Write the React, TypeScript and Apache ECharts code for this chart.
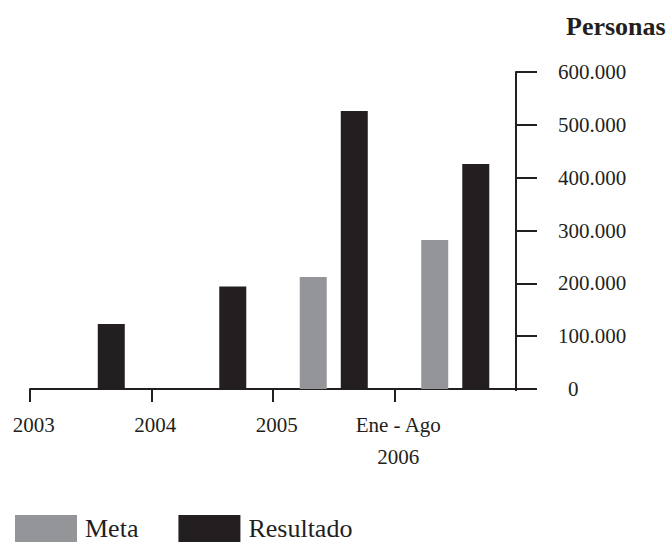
import React, { useEffect, useRef } from "react";
import * as echarts from "echarts";

const categories = ["2003", "2004", "2005", "Ene - Ago\n2006"];
const metaValues: (number | null)[] = [null, null, 212000, 282000];
const resultadoValues: (number | null)[] = [123000, 194000, 526000, 426000];
const yMax = 600000;
const yInterval = 100000;

const GRAY = "#939598";
const BLACK = "#231f20";
const FONT = "'Liberation Serif', 'Times New Roman', serif";

function fmt(v: number): string {
  return String(Math.round(v)).replace(/\B(?=(\d{3})+(?!\d))/g, ".");
}

export default function App() {
  const ref = useRef<HTMLDivElement>(null);
  useEffect(() => {
    if (!ref.current) return;
    const chart = echarts.init(ref.current, undefined, { renderer: "svg" });
    chart.setOption({
      animation: false,
      backgroundColor: "#ffffff",
      title: {
        text: "Personas",
        left: 561,
        top: 8,
        textStyle: { fontFamily: FONT, fontSize: 26, fontWeight: "bold", color: BLACK },
      },
      legend: {
        left: 15,
        top: 513,
        padding: 0,
        itemWidth: 62,
        itemHeight: 27,
        itemGap: 40,
        icon: "rect",
        textStyle: {
          fontFamily: FONT,
          fontSize: 26,
          lineHeight: 26,
          padding: [0, 0, 5, 3],
          color: BLACK,
        },
        data: ["Meta", "Resultado"],
      },
      grid: { left: 30, right: 156, top: 72, bottom: 155, containLabel: false },
      xAxis: {
        type: "category",
        data: categories,
        axisLine: { show: true, onZero: false, lineStyle: { color: BLACK, width: 2 } },
        axisTick: { show: true, length: 13, interval: 0, lineStyle: { color: BLACK, width: 2 } },
        axisLabel: {
          show: true,
          interval: 0,
          margin: 20,
          lineHeight: 32,
          align: "center",
          padding: [0, 114, 0, 0],
          fontFamily: FONT,
          fontSize: 21,
          color: BLACK,
        },
        splitLine: { show: false },
      },
      yAxis: {
        type: "value",
        position: "right",
        min: 0,
        max: yMax,
        interval: yInterval,
        axisLine: { show: true, onZero: false, lineStyle: { color: BLACK, width: 2 } },
        axisTick: { show: true, length: 21, lineStyle: { color: BLACK, width: 2 } },
        splitLine: { show: false },
        axisLabel: {
          margin: 42,
          fontFamily: FONT,
          fontSize: 21,
          color: BLACK,
          formatter: (v: number) => (v === 0 ? "{z|0}" : fmt(v)),
          rich: { z: { fontFamily: FONT, fontSize: 21, color: BLACK, padding: [0, 0, 0, 10] } },
        },
      },
      graphic: [
        {
          type: "rect",
          z: 100,
          shape: { x: 511, y: 391, width: 10, height: 15 },
          style: { fill: "#ffffff" },
        },
      ],
      series: [
        {
          name: "Meta",
          type: "bar",
          data: metaValues,
          barWidth: 27,
          barGap: "52%",
          itemStyle: { color: GRAY },
        },
        {
          name: "Resultado",
          type: "bar",
          data: resultadoValues,
          barWidth: 27,
          barGap: "52%",
          itemStyle: { color: BLACK },
        },
      ],
    });
    return () => chart.dispose();
  }, []);
  return <div ref={ref} style={{ width: 672, height: 544, position: "fixed", left: 0, top: 0 }} />;
}
